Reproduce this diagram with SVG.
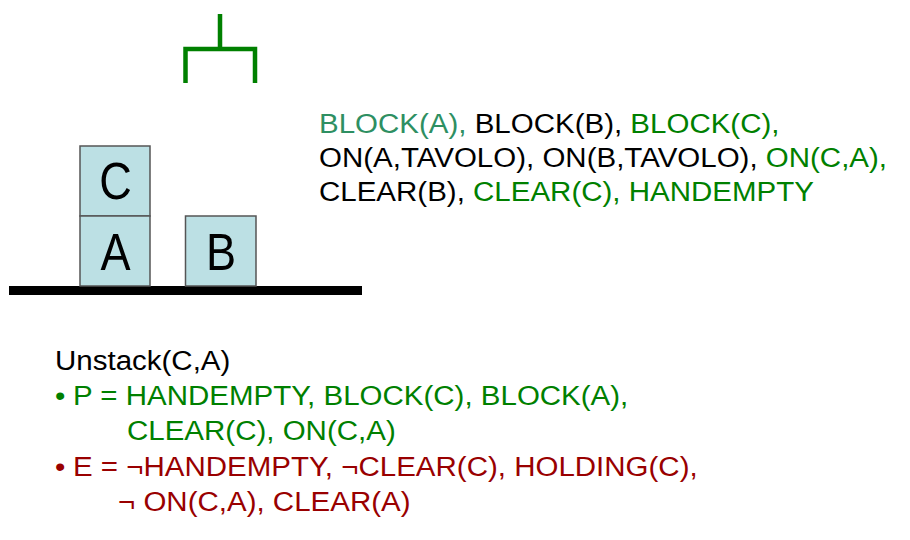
<svg xmlns="http://www.w3.org/2000/svg" width="910" height="540" viewBox="0 0 910 540">
<style>
.t{font-family:"Liberation Sans",Arial,sans-serif;font-size:27px;fill:#000}
.g{fill:#008000}
.tg{fill:#2e8f62}
.r{fill:#990000}
.blk{fill:#bce0e4;stroke:#555;stroke-width:1.5}
.bl{font-family:"Liberation Sans",Arial,sans-serif;font-size:46px;fill:#000;text-anchor:middle}
.grip{fill:none;stroke:#008000;stroke-width:4.5}
</style>
<rect width="910" height="540" fill="#fff"/>
<g id="gripper">
<path class="grip" d="M220,14 V49 M185.5,83 V49 H255 V83"/>
</g>
<g id="table"><rect x="9" y="286" width="353" height="9" fill="#000"/></g>
<g id="block-C"><rect class="blk" x="80" y="146" width="70" height="70"/><text class="bl" transform="translate(115.5,199) scale(0.98,1.14)">C</text></g>
<g id="block-A"><rect class="blk" x="80" y="216" width="70" height="70"/><text class="bl" transform="translate(115.5,270) scale(0.98,1.14)">A</text></g>
<g id="block-B"><rect class="blk" x="185.5" y="216" width="70.5" height="70"/><text class="bl" transform="translate(221,270) scale(0.98,1.14)">B</text></g>
<g id="state">
<text class="t" transform="translate(319,133) scale(1.093,1)"><tspan class="tg">BLOCK(A),</tspan> BLOCK(B), <tspan class="g">BLOCK(C),</tspan></text>
<text class="t" transform="translate(319,167) scale(1.093,1)">ON(A,TAVOLO), ON(B,TAVOLO), <tspan class="g">ON(C,A),</tspan></text>
<text class="t" transform="translate(319,201) scale(1.093,1)">CLEAR(B), <tspan class="g">CLEAR(C), HANDEMPTY</tspan></text>
</g>
<g id="operator">
<text class="t" transform="translate(55,370) scale(1.093,1)">Unstack(C,A)</text>
<text class="t g" transform="translate(55,405) scale(1.093,1)">•</text>
<text class="t g" transform="translate(73,405) scale(1.093,1)">P = HANDEMPTY, BLOCK(C), BLOCK(A),</text>
<text class="t g" transform="translate(127,440) scale(1.093,1)">CLEAR(C), ON(C,A)</text>
<text class="t r" transform="translate(55,476) scale(1.093,1)">•</text>
<text class="t r" transform="translate(73,476) scale(1.093,1)">E = ¬HANDEMPTY, ¬CLEAR(C), HOLDING(C),</text>
<text class="t r" transform="translate(118,511) scale(1.093,1)">¬ ON(C,A), CLEAR(A)</text>
</g>
</svg>
